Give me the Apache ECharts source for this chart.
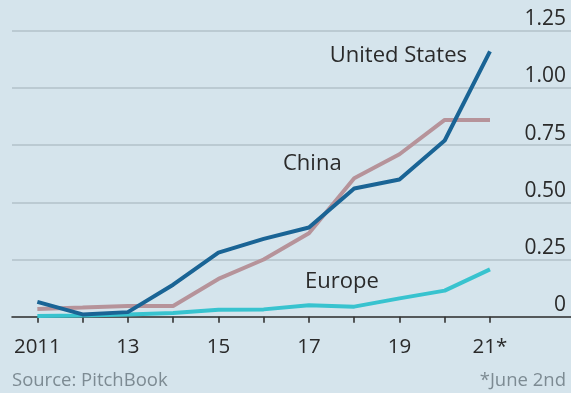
<!DOCTYPE html>
<html>
<head>
<meta charset="utf-8">
<script src="https://cdn.jsdelivr.net/npm/echarts@6/dist/echarts.min.js"></script>
<style>
  html, body { margin: 0; padding: 0; background: #d5e4ec; }
  #chart { width: 571px; height: 393px; }
</style>
</head>
<body>
<div id="chart"></div>
<script>
// Yearly values, 2011 to 2021 (2021 through June 2nd)
const years = [2011, 2012, 2013, 2014, 2015, 2016, 2017, 2018, 2019, 2020, 2021];
const unitedStates = [0.065, 0.01, 0.02, 0.14, 0.28, 0.34, 0.39, 0.56, 0.60, 0.77, 1.16];
const china        = [0.034, 0.04, 0.047, 0.047, 0.165, 0.25, 0.365, 0.605, 0.71, 0.86, 0.86];
const europe       = [0.003, 0.005, 0.01, 0.016, 0.03, 0.032, 0.05, 0.044, 0.08, 0.114, 0.207];

// Axis ticks and their labels
const xTickYears = [2011, 2012, 2013, 2014, 2015, 2016, 2017, 2018, 2019, 2020, 2021];
const xLabelYears = [2011, 2013, 2015, 2017, 2019, 2021];
const xLabelText = ['2011', '13', '15', '17', '19', '21*'];
const yTicks = [0, 0.25, 0.5, 0.75, 1, 1.25];
const yLabelText = ['0', '0.25', '0.50', '0.75', '1.00', '1.25'];

const FONT = '"Open Sans", sans-serif';
const pair = (xs, ys) => xs.map((x, i) => [x, ys[i]]);

const chart = echarts.init(document.getElementById('chart'), null, { renderer: 'canvas' });
chart.setOption({
  backgroundColor: '#d5e4ec',
  animation: false,
  grid: { left: 12, right: 0, top: 30.7, bottom: 76.3 },
  xAxis: {
    type: 'value',
    min: 2010.44,
    max: 2022.79,
    axisLine: { show: true, lineStyle: { color: '#333', width: 1.6 } },
    axisTick: {
      show: true, length: 6, customValues: xTickYears,
      lineStyle: { color: '#333', width: 1.6 }
    },
    axisLabel: {
      customValues: xLabelYears,
      formatter: v => xLabelText[xLabelYears.indexOf(Math.round(v))],
      color: '#2a2a2a', fontFamily: FONT, fontSize: 20.5, margin: 20
    },
    splitLine: { show: false }
  },
  yAxis: {
    type: 'value',
    position: 'right',
    min: 0,
    max: 1.25,
    interval: 0.25,
    axisLine: { show: false },
    axisTick: { show: false },
    axisLabel: {
      inside: true,
      formatter: v => yLabelText[yTicks.indexOf(Math.round(v * 100) / 100)],
      color: '#2a2a2a', fontFamily: FONT, fontSize: 21,
      verticalAlign: 'bottom', margin: 5, padding: [0, 0, 1, 0]
    },
    splitLine: { show: true, lineStyle: { color: '#b2c2ca', width: 1.6 } }
  },
  series: [
    {
      name: 'Europe', type: 'line', data: pair(years, europe),
      symbol: 'none', z: 3,
      lineStyle: { color: '#38c3cf', width: 4 }
    },
    {
      name: 'China', type: 'line', data: pair(years, china),
      symbol: 'none', z: 4,
      lineStyle: { color: '#b6939a', width: 4 }
    },
    {
      name: 'United States', type: 'line', data: pair(years, unitedStates),
      symbol: 'none', z: 5,
      lineStyle: { color: '#1a6495', width: 4 }
    }
  ],
  graphic: [
    { type: 'text', right: 104, top: 45, style: { text: 'United States', fill: '#2a2a2a', font: '22px ' + FONT } },
    { type: 'text', left: 283, top: 153, style: { text: 'China', fill: '#2a2a2a', font: '22px ' + FONT } },
    { type: 'text', left: 305, top: 271, style: { text: 'Europe', fill: '#2a2a2a', font: '22px ' + FONT } },
    { type: 'text', left: 12, top: 371, style: { text: 'Source: PitchBook', fill: '#7d8b93', font: '18.5px ' + FONT } },
    { type: 'text', right: 5, top: 371, style: { text: '*June 2nd', fill: '#7d8b93', font: '18.5px ' + FONT } }
  ]
});
</script>
</body>
</html>
